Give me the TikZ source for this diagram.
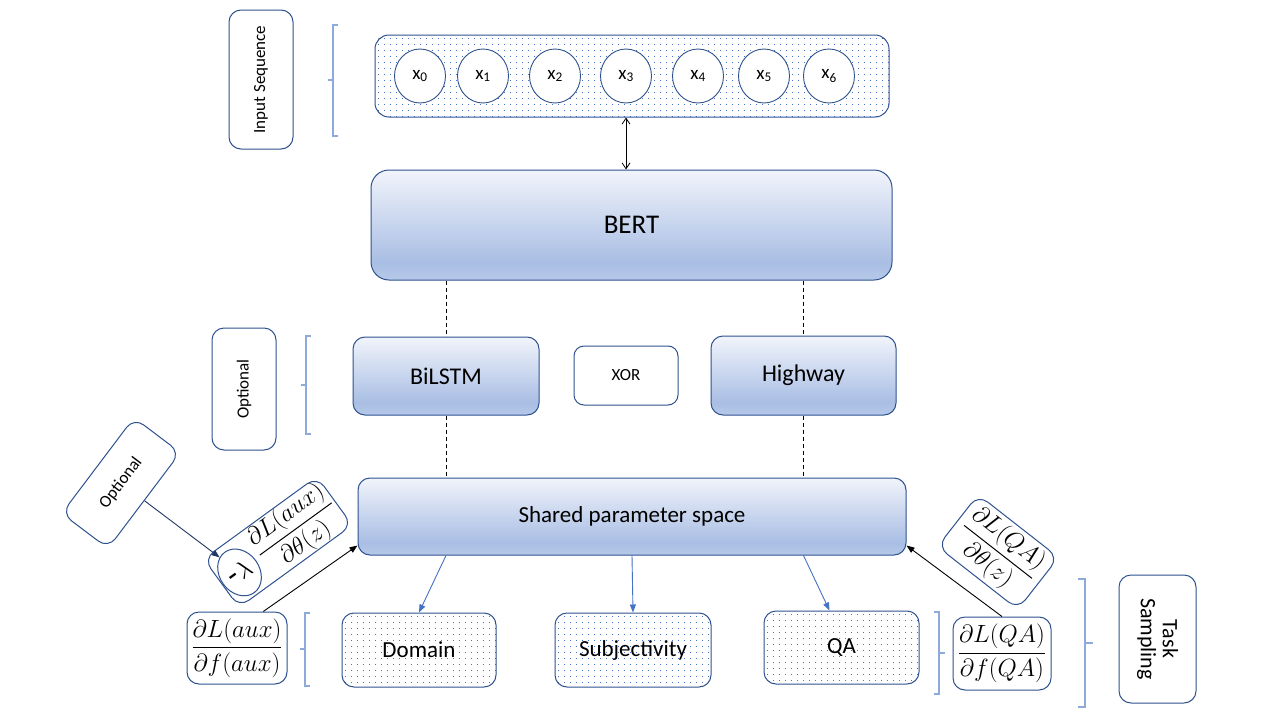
\documentclass[tikz,border=0pt]{standalone}
\usepackage{fontspec}
\setmainfont{Carlito}
\usepackage{amsmath}
\usetikzlibrary{arrows.meta,shapes.geometric,calc}
\definecolor{bord}{HTML}{2F528F}
\definecolor{dotc}{HTML}{4472C4}
\definecolor{brkc}{HTML}{8EA9DB}
\definecolor{arrb}{HTML}{4472C4}
\definecolor{navy}{HTML}{203864}
\definecolor{gtop}{HTML}{F1F4FB}
\definecolor{gmid}{HTML}{A9BEE4}
\definecolor{gbot}{HTML}{B7C9E9}
\pgfdeclareverticalshading{boxgrad}{100bp}{color(0bp)=(gbot); color(25bp)=(gbot); color(33bp)=(gmid); color(75bp)=(gtop); color(100bp)=(gtop)}
\newcommand{\fs}[1]{\fontsize{#1}{#1}\selectfont}
% dotted fill of a rounded box given in pixel coordinates (x1,y1,x2,y2)
\newcommand{\dotgrid}[4]{%
  \begin{scope}
    \clip[rounded corners=12pt] (#1,#2) rectangle (#3,#4);
    \foreach \xx in {#1,\the\numexpr#1+6\relax,...,#3}{%
      \foreach \yy in {#2,\the\numexpr#2+6\relax,...,#4}{%
        \fill[dotc] (\xx+2.5,\yy+2.5) rectangle ++(1.3,1.3);
      }%
    }%
  \end{scope}%
}
\tikzset{
  bx/.style={draw=bord, line width=1pt, rounded corners=12pt, inner sep=0pt, text=black},
  gbox/.style={bx, shading=boxgrad},
  dbox/.style={bx},
  wbox/.style={bx, fill=white},
  tok/.style={ellipse, draw=bord, line width=0.9pt, fill=white, minimum width=51pt, minimum height=54pt, inner sep=0pt, font=\fs{19}},
  brk/.style={draw=brkc, line width=1.1pt},
  dline/.style={draw=black, line width=0.8pt, dash pattern=on 4pt off 3pt},
  barr/.style={draw=arrb, line width=0.9pt, -{Triangle[length=8pt,width=6pt]}},
  karr/.style={draw=black, line width=0.9pt, -{Triangle[length=8pt,width=6pt]}},
  narr/.style={draw=navy, line width=0.9pt, -{Triangle[length=8pt,width=6pt]}},
  mth/.style={font=\fs{23}}
}
\begin{document}
\begin{tikzpicture}[x=1pt,y=-1pt]
\fill[white] (0,0) rectangle (1280,720);
\useasboundingbox (0,0) rectangle (1280,720);

% --- dotted fills
\dotgrid{375}{35}{889}{117}
\dotgrid{342}{613}{496}{687}
\dotgrid{555}{613}{711}{687}
\dotgrid{764}{611}{919}{684}

% --- side labels
\node[wbox, rotate=90, minimum width=139pt, minimum height=64pt, font=\fs{17}] (insq) at (261,79.5) {Input Sequence};
\node[wbox, rotate=90, minimum width=122pt, minimum height=64pt, font=\fs{17}] (optl) at (244,389) {Optional};
\node[wbox, rotate=-90, minimum width=128pt, minimum height=77pt, font=\fs{22}, align=center] (task) at (1157.5,639) {Task\\Sampling};

% --- input sequence
\node[dbox, rounded corners=14pt, minimum width=514pt, minimum height=82pt] (inp) at (632,76) {};
\node[tok] (x0) at (420,76) {x\textsubscript{0}};
\node[tok] (x1) at (483,76) {x\textsubscript{1}};
\node[tok] (x2) at (555,76) {x\textsubscript{2}};
\node[tok] (x3) at (626,76) {x\textsubscript{3}};
\node[tok] (x4) at (698,76) {x\textsubscript{4}};
\node[tok] (x5) at (764,76) {x\textsubscript{5}};
\node[tok] (x6) at (829,76) {x\textsubscript{6}};

% --- BERT and encoders
\node[gbox, rounded corners=18pt, minimum width=521pt, minimum height=110pt, font=\fs{27}] (bert) at (631.5,225) {BERT};
\node[gbox, minimum width=186pt, minimum height=78pt, font=\fs{24}] (bil) at (446,376) {BiLSTM};
\node[wbox, rounded corners=10pt, minimum width=104pt, minimum height=59pt, font=\fs{17}] (xor) at (626,375.5) {XOR};
\node[gbox, minimum width=185pt, minimum height=79pt, font=\fs{24}] (hw) at (803.5,375.5) {Highway};
\node[gbox, minimum width=548pt, minimum height=77pt, font=\fs{23}] (shared) at (632,516.5) {Shared parameter space};

% --- tasks
\node[dbox, minimum width=154pt, minimum height=74pt, font=\fs{23}] (dom) at (419,650) {Domain};
\node[dbox, minimum width=156pt, minimum height=74pt, font=\fs{23}] (subj) at (633,650) {Subjectivity};
\node[dbox, minimum width=155pt, minimum height=73pt, font=\fs{23}] (qa) at (841.5,647.5) {QA};

% --- gradient boxes
\node[wbox, minimum width=100pt, minimum height=72pt, mth] (auxdf) at (237,648) {$\dfrac{\partial L(aux)}{\partial f(aux)}$};
\node[wbox, minimum width=98pt, minimum height=73pt, mth] (qadf) at (1002,653.5) {$\dfrac{\partial L(QA)}{\partial f(QA)}$};
\node[wbox, rotate=-38, minimum width=102pt, minimum height=66pt, mth] (qath) at (998,552) {$\dfrac{\partial L(QA)}{\partial \theta(z)}$};
\node[wbox, rotate=53, minimum width=120pt, minimum height=58pt, font=\fs{17}] (opt2) at (121,483) {Optional};
\begin{scope}[shift={(278,542)}, rotate=36, transform shape]
  \node[wbox, minimum width=140pt, minimum height=60pt] (auxth) at (0,0) {};
  \node[ellipse, draw=bord, line width=1pt, fill=white, inner sep=0pt, minimum width=40pt, minimum height=50pt, font=\fs{32}] (lam) at (-49,2) {-$\lambda$};
  \node[mth] (auxfr) at (22,0) {$\dfrac{\partial L(aux)}{\partial \theta(z)}$};
\end{scope}

% --- connectors
\draw[line width=0.8pt, {Straight Barb[length=6pt,width=8pt]}-{Straight Barb[length=6pt,width=8pt]}] (inp.south -| x3) -- (bert.north -| x3);
\draw[dline] (bil.north |- bert.south) -- (bil.north);
\draw[dline] (hw.north |- bert.south) -- (hw.north);
\draw[dline] (bil.south) -- (bil.south |- shared.north);
\draw[dline] (hw.south) -- (hw.south |- shared.north);
\draw[barr] (shared.south -| bil) -- (dom.north);
\draw[barr] (shared.south) -- (subj.north);
\draw[barr] (shared.south -| hw) -- ([xshift=-12pt]qa.north);
\draw[karr] ($(auxdf.north west)!0.76!(auxdf.north east)$) -- ([yshift=10pt]shared.south west);
\draw[karr] (qadf.north) -- ([yshift=10pt]shared.south east);
\draw[narr] (opt2) -- (lam);

% --- brackets
\draw[brk] (338,25) -- (333,25) -- (333,136) -- (338,136) (333,80) -- (328,80);
\draw[brk] (311,336) -- (306,336) -- (306,434) -- (311,434) (306,385) -- (301,385);
\draw[brk] (310,613) -- (305,613) -- (305,686) -- (310,686) (305,649) -- (300,649);
\draw[brk] (934,612) -- (939,612) -- (939,694) -- (934,694) (939,653) -- (945,653);
\draw[brk] (1078,579) -- (1085,579) -- (1085,707) -- (1078,707) (1085,643) -- (1093,643);
\end{tikzpicture}
\end{document}
